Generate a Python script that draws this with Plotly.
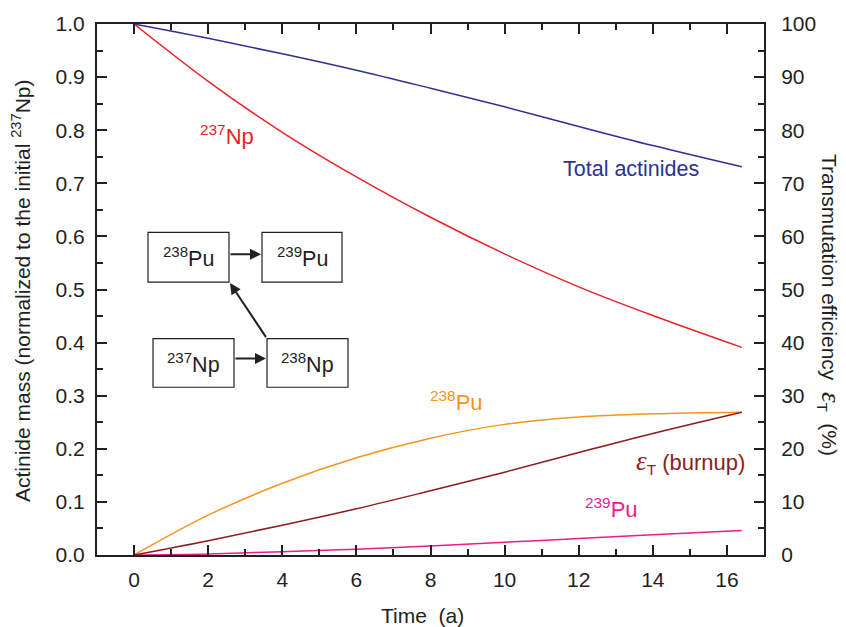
import plotly.graph_objects as go

# ---------------- data ----------------
time = [0, 2, 4, 6, 8, 10, 12, 14, 16.4]
np237 = [1.0, 0.892, 0.796, 0.712, 0.636, 0.567, 0.505, 0.451, 0.391]
total_actinides = [1.0, 0.973, 0.944, 0.913, 0.879, 0.844, 0.807, 0.771, 0.731]
pu238 = [0.0, 0.075, 0.135, 0.183, 0.220, 0.246, 0.260, 0.266, 0.269]
pu239 = [0.0, 0.002, 0.006, 0.011, 0.017, 0.024, 0.031, 0.038, 0.046]
burnup_pct = [0.0, 2.7, 5.6, 8.7, 12.1, 15.6, 19.3, 22.9, 26.9]

x_ticks = [0, 2, 4, 6, 8, 10, 12, 14, 16]
y_ticks = [0.0, 0.1, 0.2, 0.3, 0.4, 0.5, 0.6, 0.7, 0.8, 0.9, 1.0]
y2_ticks = [0, 10, 20, 30, 40, 50, 60, 70, 80, 90, 100]

RED = "#EC2227"
BLUE = "#2E3192"
ORANGE = "#F7941D"
BROWN = "#8C1D1D"
MAGENTA = "#EC1C8C"
INK = "#231F20"

FONT = "Liberation Sans, Arial, sans-serif"
FS = 21
EPS = "<span style=\"font-family:'Liberation Serif';font-size:27px\"><i>ε</i></span>"

# plot area in pixels
L, R, T, B = 97, 764, 20, 555
XMIN, XMAX = -1, 17


def px2x(px):
    return XMIN + (px - L) / (R - L) * (XMAX - XMIN)


def py2y(py):
    return (B - py) / (B - T)


fig = go.Figure()
fig.add_trace(go.Scatter(x=time, y=total_actinides, mode="lines", line=dict(color=BLUE, width=1.5, shape="spline")))
fig.add_trace(go.Scatter(x=time, y=np237, mode="lines", line=dict(color=RED, width=1.5, shape="spline")))
fig.add_trace(go.Scatter(x=time, y=pu238, mode="lines", line=dict(color=ORANGE, width=1.5, shape="spline")))
fig.add_trace(go.Scatter(x=time, y=pu239, mode="lines", line=dict(color=MAGENTA, width=1.5, shape="spline")))
fig.add_trace(go.Scatter(x=time, y=burnup_pct, mode="lines", yaxis="y2",
                         line=dict(color=BROWN, width=1.5, shape="spline")))

axis_common = dict(
    showgrid=False, zeroline=False, showline=True, linecolor=INK, linewidth=2,
    ticks="inside", tickcolor=INK, tickwidth=2, ticklen=10,
    tickfont=dict(family=FONT, size=FS, color=INK),
)

fig.update_layout(
    width=846, height=627,
    margin=dict(l=L, r=846 - R, t=T, b=627 - B),
    plot_bgcolor="white", paper_bgcolor="white",
    showlegend=False,
    font=dict(family=FONT, size=FS, color=INK),
    xaxis=dict(
        **axis_common, range=[XMIN, XMAX], tickvals=x_ticks, mirror="ticks",
        minor=dict(dtick=1, tick0=0, ticks="inside", ticklen=6, tickwidth=2, tickcolor=INK),
        ticklabelstandoff=5,
    ),
    yaxis=dict(
        **axis_common, range=[0, 1], tickvals=y_ticks, tickformat=".1f",
        minor=dict(dtick=0.05, tick0=0, ticks="inside", ticklen=6, tickwidth=2, tickcolor=INK),
        ticklabelstandoff=6,
    ),
    yaxis2=dict(
        **axis_common, range=[0, 100], tickvals=y2_ticks, overlaying="y", side="right",
        minor=dict(dtick=5, tick0=0, ticks="inside", ticklen=6, tickwidth=2, tickcolor=INK),
        ticklabelstandoff=11,
    ),
)

ann = []
# axis titles
ann.append(dict(text="Time  (a)", xref="paper", yref="paper", x=(422 - L) / (R - L), y=py2y(616),
                showarrow=False, font=dict(size=FS)))
ann.append(dict(text="Actinide mass (normalized to the initial <sup>237</sup>Np)", xref="paper", yref="paper",
                x=(21 - L) / (R - L), y=py2y(289), textangle=-90, showarrow=False, font=dict(size=FS)))
ann.append(dict(text="Transmutation efficiency  " + EPS + "<sub>T</sub>  (%)", xref="paper", yref="paper",
                x=(830 - L) / (R - L), y=py2y(303), textangle=90, showarrow=False, font=dict(size=FS)))

# curve labels
ann.append(dict(text="<sup>237</sup>Np", x=px2x(227), y=py2y(132), showarrow=False, font=dict(size=22, color=RED)))
ann.append(dict(text="Total actinides", x=px2x(631), y=py2y(166), showarrow=False, font=dict(size=21.5, color=BLUE)))
ann.append(dict(text="<sup>238</sup>Pu", x=px2x(456), y=py2y(400), showarrow=False, font=dict(size=22, color=ORANGE)))
ann.append(dict(text=EPS + "<sub>T</sub> (burnup)", x=px2x(690), y=py2y(461), showarrow=False,
                font=dict(size=22, color=BROWN)))
ann.append(dict(text="<sup>239</sup>Pu", x=px2x(611), y=py2y(508), showarrow=False, font=dict(size=22, color=MAGENTA)))

# reaction diagram boxes
boxes = [
    ("<sup>238</sup>Pu", 148, 230, 229, 280),
    ("<sup>239</sup>Pu", 262, 230, 342, 280),
    ("<sup>237</sup>Np", 153, 337, 234, 386),
    ("<sup>238</sup>Np", 267, 337, 348, 386),
]
shapes = []
for label, x0, y0, x1, y1 in boxes:
    shapes.append(dict(type="rect", xref="x", yref="y", x0=px2x(x0), x1=px2x(x1), y0=py2y(y0), y1=py2y(y1),
                       line=dict(color=INK, width=1.2), fillcolor="white", layer="above"))
    ann.append(dict(text=label, x=px2x((x0 + x1) / 2), y=py2y((y0 + y1) / 2), showarrow=False,
                    font=dict(size=21.5, color=INK)))

arrows = [
    ((229, 252), (261, 252)),
    ((234, 357), (266, 357)),
    ((267, 337), (230, 281)),
]
for (tx, ty), (hx, hy) in arrows:
    ann.append(dict(text="", x=px2x(hx), y=py2y(hy), ax=px2x(tx), ay=py2y(ty), xref="x", yref="y",
                    axref="x", ayref="y", showarrow=True, arrowhead=2, arrowsize=1.1, arrowwidth=2,
                    arrowcolor=INK, standoff=0, startstandoff=0))

for a in ann:
    a.setdefault("xref", "x")
    a.setdefault("yref", "y")
    a.setdefault("xanchor", "center")
    a.setdefault("yanchor", "middle")
fig.update_layout(annotations=ann, shapes=shapes)

fig.write_html("out.html")
